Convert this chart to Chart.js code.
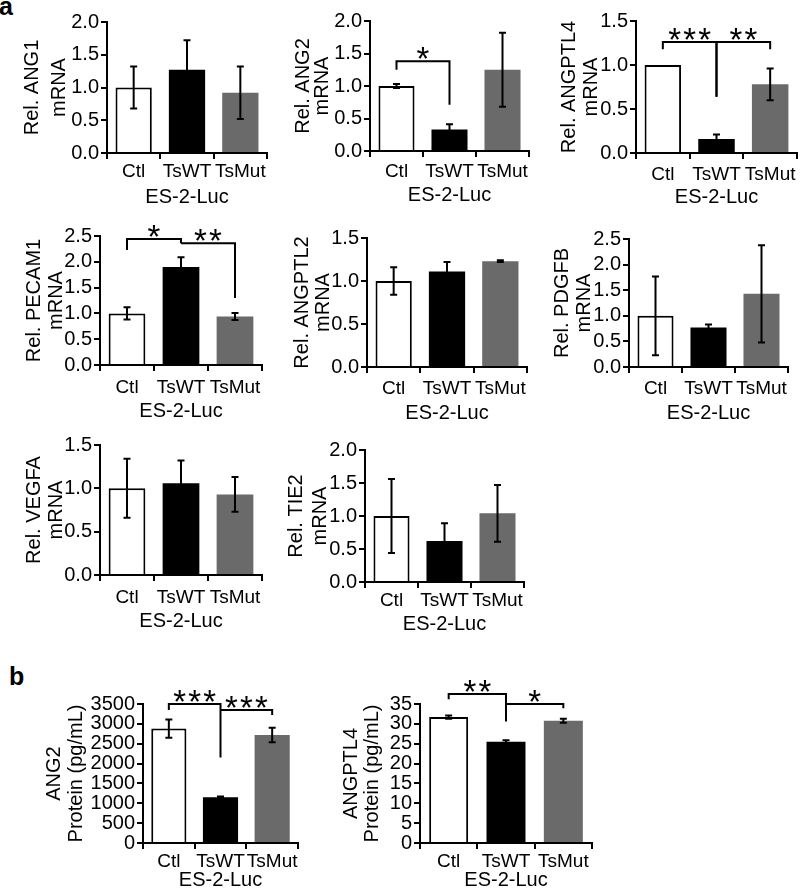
<!DOCTYPE html>
<html lang="en">
<head>
<meta charset="UTF-8" />
<title>ES-2-Luc angiogenic factors</title>
<script src="https://cdn.jsdelivr.net/npm/chart.js"></script>
<style>
  html,body{margin:0;padding:0;background:#fff;overflow:hidden;}
  body{width:800px;height:894px;position:relative;font-family:"Liberation Sans",Arial,sans-serif;}
  canvas{position:absolute;}
  .tag{position:absolute;font-weight:bold;font-size:25px;line-height:1;}
</style>
</head>
<body>
<div class="tag" style="left:-1px;top:-6px">a</div>
<div class="tag" style="left:9px;top:664px">b</div>
<script>
const groups=['Ctl','TsWT','TsMut'];
const xTitle='ES-2-Luc';

// a: relative mRNA (mean, error)
const ang1Mean=[1.00,1.27,0.92],     ang1Err=[0.32,0.45,0.40];
const ang2Mean=[1.00,0.33,1.25],     ang2Err=[0.03,0.08,0.57];
const angptl4Mean=[1.00,0.16,0.78],  angptl4Err=[0,0.05,0.18];
const pecam1Mean=[1.00,1.90,0.94],   pecam1Err=[0.12,0.19,0.07];
const angptl2Mean=[1.00,1.11,1.23],  angptl2Err=[0.16,0.11,0.01];
const pdgfbMean=[1.00,0.77,1.43],    pdgfbErr=[0.77,0.06,0.95];
const vegfaMean=[1.00,1.06,0.93],    vegfaErr=[0.34,0.26,0.20];
const tie2Mean=[1.00,0.62,1.04],     tie2Err=[0.56,0.27,0.43];
// b: protein pg/mL
const ang2ProtMean=[2880,1150,2720], ang2ProtErr=[230,20,180];
const angptl4ProtMean=[31.7,25.5,30.8], angptl4ProtErr=[0.4,0.4,0.5];

// significance brackets (data units): from/to group index, bar level, leg ends
const ang2Sig=[{from:0,to:1,y:1.38,yFrom:1.25,yTo:0.71,label:'*'}];
const angptl4Sig=[{from:0,to:1,y:1.26,yFrom:1.18,yTo:0.64,label:'***'},
                  {from:1,to:2,y:1.26,yFrom:0.64,yTo:1.18,label:'**'}];
const pecam1Sig=[{from:0,to:1,y:2.44,yFrom:2.23,yTo:2.36,label:'*'},
                 {from:1,to:2,y:2.36,yFrom:2.36,yTo:1.30,label:'**'}];
const ang2ProtSig=[{from:0,to:1,y:3500,yFrom:3350,yTo:2150,label:'***'},
                   {from:1,to:2,y:3350,yFrom:3350,yTo:3225,label:'***'}];
const angptl4ProtSig=[{from:0,to:1,y:37.5,yFrom:36.2,yTo:30.6,label:'**'},
                      {from:1,to:2,y:35.0,yFrom:35.0,yTo:33.9,label:'*'}];

// y axis ranges [max, step, decimals]
const mrna15=[1.5,0.5,1], mrna20=[2.0,0.5,1], mrna25=[2.5,0.5,1];
const protAng2=[3500,500,0], protAngptl4=[35,5,0];

const panels=[
  {mean:ang1Mean,err:ang1Err,sig:[],axis:mrna20,title:['Rel. ANG1','mRNA']},
  {mean:ang2Mean,err:ang2Err,sig:ang2Sig,axis:mrna20,title:['Rel. ANG2','mRNA']},
  {mean:angptl4Mean,err:angptl4Err,sig:angptl4Sig,axis:mrna15,title:['Rel. ANGPTL4','mRNA']},
  {mean:pecam1Mean,err:pecam1Err,sig:pecam1Sig,axis:mrna25,title:['Rel. PECAM1','mRNA']},
  {mean:angptl2Mean,err:angptl2Err,sig:[],axis:mrna15,title:['Rel. ANGPTL2','mRNA']},
  {mean:pdgfbMean,err:pdgfbErr,sig:[],axis:mrna25,title:['Rel. PDGFB','mRNA']},
  {mean:vegfaMean,err:vegfaErr,sig:[],axis:mrna15,title:['Rel. VEGFA','mRNA']},
  {mean:tie2Mean,err:tie2Err,sig:[],axis:mrna20,title:['Rel. TIE2','mRNA']},
  {mean:ang2ProtMean,err:ang2ProtErr,sig:ang2ProtSig,axis:protAng2,title:['ANG2','Protein (pg/mL)']},
  {mean:angptl4ProtMean,err:angptl4ProtErr,sig:angptl4ProtSig,axis:protAngptl4,title:['ANGPTL4','Protein (pg/mL)']}
];

// page placement: plot box l,t,r,b ; y-title first line x, line gap ; x-label pad ; x-title offset
const boxes=[
  {l:107,t:22,r:267,b:153,tx:32,lh:27,pad:1,off:44},
  {l:370,t:21,r:529,b:151,tx:303,lh:19,pad:3,off:44},
  {l:636,t:21,r:797,b:153,tx:569,lh:22,pad:4,off:44},
  {l:100,t:236,r:262,b:365,tx:34,lh:22,pad:5,off:46},
  {l:367,t:238,r:527,b:367,tx:302,lh:21,pad:4,off:46},
  {l:629,t:239,r:788,b:367,tx:562,lh:22,pad:4,off:46},
  {l:100,t:445,r:262,b:575,tx:34,lh:22,pad:5,off:46},
  {l:365,t:450,r:524,b:582,tx:296,lh:24,pad:1,off:42},
  {l:143,t:704,r:298,b:843,tx:54,lh:22,pad:1,off:37},
  {l:420,t:704,r:592,b:843,tx:351,lh:21,pad:1,off:37}
];

const FONT='"Liberation Sans", Arial, sans-serif';

function marks(p){
  return {
    id:'marks',
    afterDatasetsDraw(chart){
      const ctx=chart.ctx, xs=chart.scales.x, ys=chart.scales.y;
      const meta=chart.getDatasetMeta(0);
      ctx.save();
      ctx.strokeStyle='#000';ctx.fillStyle='#000';ctx.lineWidth=2;
      p.err.forEach((e,i)=>{
        if(!e) return;
        const cx=meta.data[i].x;
        const y1=ys.getPixelForValue(p.mean[i]+e), y2=ys.getPixelForValue(p.mean[i]-e);
        ctx.beginPath();
        ctx.moveTo(cx,y1);ctx.lineTo(cx,y2);
        ctx.moveTo(cx-3.5,y1);ctx.lineTo(cx+3.5,y1);
        ctx.moveTo(cx-3.5,y2);ctx.lineTo(cx+3.5,y2);
        ctx.stroke();
      });
      ctx.font='33px '+FONT;
      ctx.textAlign='center';ctx.textBaseline='alphabetic';
      p.sig.forEach(s=>{
        const x1=xs.getPixelForValue(s.from), x2=xs.getPixelForValue(s.to);
        const yy=ys.getPixelForValue(s.y);
        ctx.beginPath();
        ctx.moveTo(x1,ys.getPixelForValue(s.yFrom));
        ctx.lineTo(x1,yy);ctx.lineTo(x2,yy);
        ctx.lineTo(x2,ys.getPixelForValue(s.yTo));
        ctx.stroke();
        const n=s.label.length, mid=(x1+x2)/2;
        for(let k=0;k<n;k++){
          ctx.fillText('*',mid+(k-(n-1)/2)*15,yy-10+0.58*33);
        }
      });
      ctx.restore();
    }
  };
}

panels.forEach((p,i)=>{
  const L=boxes[i];
  const cl=L.tx-20, ct=L.t-32;
  const cv=document.createElement('canvas');
  cv.width=L.r-cl+20;
  cv.height=(L.b-ct)+L.off+12;
  cv.style.left=cl+'px';cv.style.top=ct+'px';
  document.body.appendChild(cv);
  const [yMax,yStep,dec]=p.axis;
  new Chart(cv,{
    type:'bar',
    data:{labels:groups,datasets:[{
      data:p.mean,
      backgroundColor:['#ffffff','#000000','#6a6a6a'],
      borderColor:'#000',borderWidth:[2,0,0],
      barPercentage:0.68,categoryPercentage:1
    }]},
    options:{
      responsive:false,animation:false,events:[],
      layout:{padding:{top:32,right:20,left:0,bottom:0}},
      plugins:{legend:{display:false},tooltip:{enabled:false}},
      scales:{
        x:{
          grid:{offset:true,drawOnChartArea:false,color:'#000',lineWidth:2,tickLength:6},
          border:{color:'#000',width:2},
          ticks:{color:'#000',font:{size:19,family:FONT},padding:L.pad,maxRotation:0,autoSkip:false},
          title:{display:true,text:xTitle,color:'#000',font:{size:20,family:FONT},padding:0},
          afterFit(s){s.height=L.off+12;}
        },
        y:{
          min:0,max:yMax,
          ticks:{stepSize:yStep,autoSkip:false,color:'#000',font:{size:20,family:FONT},padding:2,
                 callback:v=>Number(v).toFixed(dec)},
          grid:{drawOnChartArea:false,color:'#000',lineWidth:2,tickLength:6},
          border:{color:'#000',width:2},
          title:{display:true,text:p.title,color:'#000',
                 font:{size:20,family:FONT,lineHeight:L.lh/20},
                 padding:{top:20-L.lh/2,bottom:0}},
          afterFit(s){s.width=L.l-cl;}
        }
      }
    },
    plugins:[marks(p)]
  });
});
</script>
</body>
</html>
